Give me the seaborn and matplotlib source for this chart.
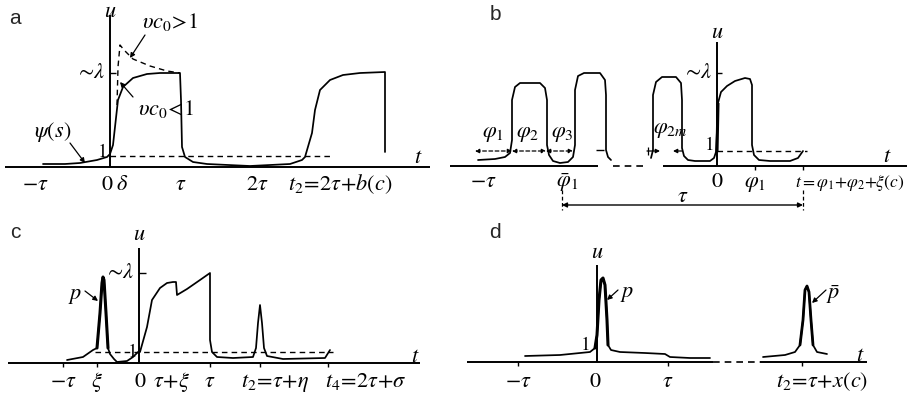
import matplotlib
matplotlib.use('Agg')
import matplotlib.pyplot as plt
import seaborn as sns

sns.set_theme(style='white')
plt.rcParams['font.family'] = ['Liberation Sans', 'DejaVu Sans']
plt.rcParams['mathtext.fontset'] = 'stix'

W, H = 907, 397

# ---------------- data (t, u in drawing units) -------------
# panel a
a_t = [-67, -45, -30, -13, -3, 0, 3, 5, 8, 13, 23, 37, 50, 70, 71, 72, 75, 83, 97, 140,
       180, 192, 195, 202, 205, 210, 220, 233, 250, 275, 275]
a_u = [3, 3, 4, 7, 10, 13, 22, 40, 67, 80, 89, 93, 94, 94, 67, 20, 10, 5, 3, 1,
       3, 7, 10, 34, 57, 77, 87, 92, 94, 95, 15]
a_fast_t = [7, 8, 10, 14, 23, 40, 57, 70]          # nu*c0 > 1 branch
a_fast_u = [62, 100, 122, 117, 108, 101, 96, 94]
a_ticks = [-75, -3, 12, 71, 147, 230]
a_labels = [r'$-\tau$', r'$0$', r'$\delta$', r'$\tau$', r'$2\tau$', r'$t_2\!=\!2\tau\!+\!b(c)$']

# panel b
b1_t = [-239, -222, -212, -207, -205, -205, -202, -197, -177, -172, -170, -170, -168, -164,
        -157, -149, -144, -142, -142, -139, -133, -117, -112, -111, -111, -109, -106]
b1_u = [6, 7, 9, 13, 26, 66, 79, 83, 83, 78, 66, 21, 11, 5,
        3, 4, 9, 21, 76, 90, 93, 93, 86, 71, 16, 9, 6]
b2_t = [-66, -64, -64, -61, -55, -41, -36, -35, -35, -33, -29, -22, -7, -3, -1,
        0, 1, 4, 10, 18, 28, 33, 35, 35, 37, 42, 53, 73, 81, 86]
b2_u = [8, 16, 71, 84, 89, 89, 83, 66, 18, 10, 6, 5, 5, 8, 14,
        36, 63, 74, 80, 85, 88, 87, 81, 21, 11, 6, 5, 5, 8, 15]
b_ticks = [-234, -150, 0, 38]
b_labels = [r'$-\tau$', r'$\bar{\varphi}_1$', r'$0$', r'$\varphi_1$']
b_phi_edges = [-242, -205, -171, -144]
b_phi_pos = [-224, -189, -155]
b_phi_labels = [r'$\varphi_1$', r'$\varphi_2$', r'$\varphi_3$']

# panel c
c_t = [-72, -56, -46, -42, -39, -37, -36, -35, -33, -31, -29, -25, -22, -12, -6, -1, 1, 8, 13,
       21, 28, 34, 37, 38, 48, 61, 71, 71, 73, 78, 94, 114, 117, 119, 121, 123, 125, 128, 144,
       186, 191]
c_u = [3, 6, 13, 15, 50, 80, 86, 83, 50, 15, 9, 4, 1, 2, 6, 11, 11, 36, 63,
       75, 80, 81, 81, 68, 74, 83, 90, 23, 11, 6, 5, 6, 15, 40, 58, 40, 15, 7, 4,
       5, 13]
c_ticks = [-76, -42, 1, 33, 71, 136, 227]
c_labels = [r'$-\tau$', r'$\xi$', r'$0$', r'$\tau\!+\!\xi$', r'$\tau$',
            r'$t_2\!=\!\tau\!+\!\eta$', r'$t_4\!=\!2\tau\!+\!\sigma$']
c_marks = [-76, -42, 71, 121, 189]

# panel d
d1_t = [-72, -37, -17, -7, -2, 0, 2, 4, 6, 8, 10, 11, 14, 23, 48, 68, 73, 93, 113]
d1_u = [6, 7, 9, 10, 14, 27, 62, 82, 84, 77, 42, 17, 12, 10, 9, 8, 5, 4, 4]
d2_t = [166, 188, 198, 203, 206, 208, 210, 212, 214, 216, 220, 230]
d2_u = [5, 7, 10, 17, 42, 72, 76, 70, 42, 17, 10, 8]
d_ticks = [-79, -2, 71, 225]
d_labels = [r'$-\tau$', r'$0$', r'$\tau$', r'$t_2\!=\!\tau\!+\!x(c)$']
d_marks = [-79, 71, 205]

# ---------------- drawing -------------
fig = plt.figure(figsize=(W / 100, H / 100), dpi=100)
fig.patch.set_facecolor('white')

LW = 1.25
TS = 16


def panel(ox, oy):
    ax = fig.add_axes([0, 0, 1, 1])
    ax.set_xlim(-ox, W - ox)
    ax.set_ylim(oy - H, oy)
    ax.axis('off')
    ax.patch.set_alpha(0)
    return ax


def curve(ax, t, u, lw=LW, ls='-'):
    sns.lineplot(x=t, y=u, sort=False, estimator=None, color='black', lw=lw,
                 linestyle=ls, ax=ax, legend=False)


def seg(ax, t, u, lw=1.2, ls='-'):
    ax.plot(t, u, color='black', lw=lw, linestyle=ls, solid_capstyle='butt')


def txt(ax, t, u, s, size=TS, ha='center', va='baseline', **kw):
    ax.text(t, u, s, fontsize=size, ha=ha, va=va, color='black', **kw)


def arrow(ax, start, end, style='-|>', ls='-', lw=0.9, ms=7):
    ax.annotate('', xy=end, xytext=start,
                arrowprops=dict(arrowstyle=style, color='black', lw=lw, linestyle=ls,
                                mutation_scale=ms, shrinkA=0, shrinkB=0))


def ticklabels(ax, pos, labels, u):
    for p, s in zip(pos, labels):
        txt(ax, p, u, s)


def marks(ax, pos):
    for p in pos:
        seg(ax, [p, p], [0, -4], lw=1.0)


# ---- panel a ----
ax = panel(110, 167)
seg(ax, [-105, 320], [0, 0], lw=1.4)
seg(ax, [0, 0], [0, 152], lw=1.4)
seg(ax, [0, 6], [94, 94], lw=1.0)
curve(ax, [0, 220], [11, 11], lw=1.0, ls=(0, (4, 3)))
curve(ax, a_fast_t, a_fast_u, lw=1.0, ls=(0, (4, 3)))
curve(ax, a_t, a_u)
ax.text(-95, 149, 'a', fontsize=15, ha='center', va='center')
txt(ax, 0, 150, r'$u$')
txt(ax, 308, 4, r'$t$')
txt(ax, -8, 10, r'$1$', size=14)
txt(ax, -4, 94, r'$\sim\!\lambda$', ha='right', va='center')
ticklabels(ax, a_ticks, a_labels, -23)
txt(ax, -57, 35, r'$\psi(s)$', va='center')
arrow(ax, (-40, 24), (-25, 4))
txt(ax, 60, 139, r'$\upsilon c_0\!>\!1$')
arrow(ax, (35, 132), (20, 109))
txt(ax, 56, 52, r'$\upsilon c_0\!<\!1$')
arrow(ax, (23, 70), (10, 85))

# ---- panel b ----
ax = panel(717, 166)
seg(ax, [-267, -119], [0, 0], lw=1.4)
seg(ax, [-104, -72], [0, 0], lw=1.2, ls=(0, (4, 3)))
seg(ax, [-54, 190], [0, 0], lw=1.4)
seg(ax, [0, 0], [0, 124], lw=1.4)
seg(ax, [0, 5], [93, 93], lw=1.0)
curve(ax, [0, 90], [15, 15], lw=1.0, ls=(0, (4, 3)))
seg(ax, [-121, -113], [16, 16], lw=1.0)
curve(ax, b1_t, b1_u)
curve(ax, b2_t, b2_u)
seg(ax, [0, 1], [14, 63], lw=2.2)
for i in range(3):
    arrow(ax, (b_phi_edges[i], 15), (b_phi_edges[i + 1], 15), style='<|-|>',
          ls=(0, (3, 2)), lw=0.9, ms=6)
    txt(ax, b_phi_pos[i], 32, b_phi_labels[i], va='center')
arrow(ax, (-70, 15), (-57, 15), ms=6)
arrow(ax, (-35, 15), (-44, 15), ms=6)
seg(ax, [-69, -69], [11, 19], lw=0.9)
txt(ax, -47, 36, r'$\varphi_{2m}$', va='center')
marks(ax, [38, 86])
ax.text(-222, 151, 'b', fontsize=15, ha='center', va='center')
txt(ax, 0, 128, r'$u$')
txt(ax, 170, 4, r'$t$')
txt(ax, -8, 16, r'$1$', size=14)
txt(ax, -4, 93, r'$\sim\!\lambda$', ha='right', va='center')
ticklabels(ax, b_ticks, b_labels, -21)
txt(ax, 187, -21, r'$t{=}\varphi_1{+}\varphi_2{+}\xi(c)$', ha='right', size=12.5)
arrow(ax, (-155, -39), (86, -39), style='<|-|>', lw=1.0, ms=7)
seg(ax, [-155, -155], [-24, -44], lw=0.9, ls=(0, (3, 2)))
seg(ax, [86, 86], [-24, -44], lw=0.9, ls=(0, (3, 2)))
txt(ax, -34, -31, r'$\tau$', va='center')

# ---- panel c ----
ax = panel(139, 363)
seg(ax, [-131, 281], [0, 0], lw=1.4)
seg(ax, [0, 0], [0, 115], lw=1.4)
seg(ax, [0, 7], [90, 90], lw=1.0)
curve(ax, [-44, 194], [11, 11], lw=1.0, ls=(0, (4, 3)))
curve(ax, c_t, c_u)
curve(ax, c_t[3:10], c_u[3:10], lw=2.2)
marks(ax, c_marks)
ax.text(-124, 131, 'c', fontsize=15, ha='center', va='center')
txt(ax, 0, 123, r'$u$')
txt(ax, 276, 1, r'$t$')
txt(ax, -7, 6, r'$1$', size=14)
txt(ax, -4, 90, r'$\sim\!\lambda$', ha='right', va='center')
ticklabels(ax, c_ticks, c_labels, -24)
txt(ax, -64, 68, r'$p$', va='center')
arrow(ax, (-54, 72), (-41, 62))

# ---- panel d ----
ax = panel(597, 362)
seg(ax, [-130, 116], [0, 0], lw=1.4)
seg(ax, [116, 163], [0, 0], lw=1.2, ls=(0, (4, 3)))
seg(ax, [163, 270], [0, 0], lw=1.4)
seg(ax, [0, 0], [0, 97], lw=1.4)
curve(ax, d1_t, d1_u)
curve(ax, d1_t[4:12], d1_u[4:12], lw=2.2)
curve(ax, d2_t, d2_u)
curve(ax, d2_t[3:10], d2_u[3:10], lw=2.0)
marks(ax, d_marks)
ax.text(-102, 130, 'd', fontsize=15, ha='center', va='center')
txt(ax, 0, 104, r'$u$')
txt(ax, 263, 1, r'$t$')
txt(ax, -12, 12, r'$1$', size=14)
ticklabels(ax, d_ticks, d_labels, -25)
txt(ax, 30, 69, r'$p$', va='center')
arrow(ax, (21, 72), (10, 62))
txt(ax, 236, 67, r'$\bar{p}$', va='center')
arrow(ax, (229, 72), (215, 59))

fig.savefig('out.png', dpi=100, facecolor='white')
